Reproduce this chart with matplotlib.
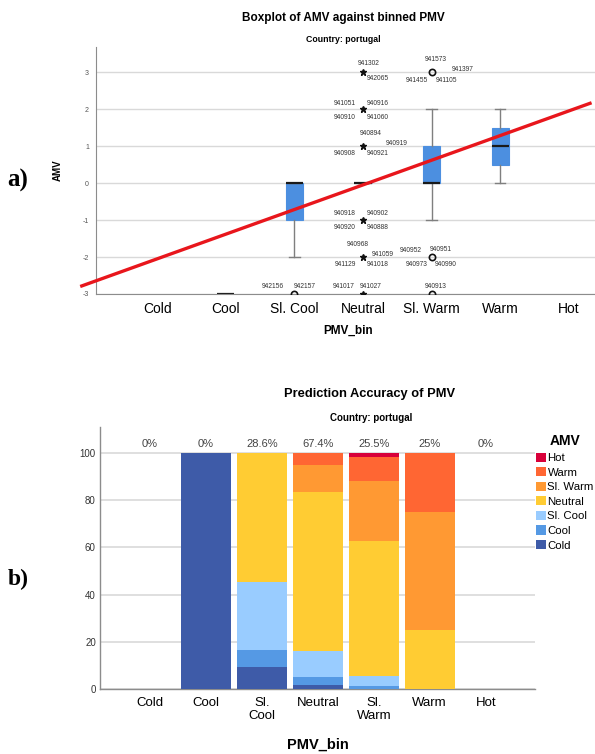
import numpy as np
import matplotlib
matplotlib.use('Agg')
import matplotlib.pyplot as plt
from matplotlib.patches import Patch

plt.rcParams['font.family'] = ['Liberation Sans', 'DejaVu Sans']
plt.rcParams['axes.unicode_minus'] = False

# ---- data: boxplot of AMV against binned PMV ----
pmv_bins = ['Cold', 'Cool', 'Sl. Cool', 'Neutral', 'Sl. Warm', 'Warm', 'Hot']

box_bins = ['Cool', 'Sl. Cool', 'Neutral', 'Sl. Warm', 'Warm']
box_med = [-3, 0, 0, 0, 1]
box_q1 = [-3, -1, 0, 0, 0.5]
box_q3 = [-3, 0, 0, 1, 1.5]
box_whislo = [-3, -2, 0, -1, 0]
box_whishi = [-3, 0, 0, 2, 2]

outlier_bin = ['Sl. Cool', 'Neutral', 'Neutral', 'Neutral', 'Neutral', 'Neutral',
               'Neutral', 'Sl. Warm', 'Sl. Warm', 'Sl. Warm']
outlier_amv = [-3, 3, 2, 1, -1, -2, -3, 3, -2, -3]
outlier_extreme = [False, True, True, True, True, True, True, False, False, False]
outlier_ids = [
    ['942156', '942157'],
    ['941302', '942065'],
    ['941051', '940916', '940910', '941060'],
    ['940894', '940919', '940908', '940921'],
    ['940918', '940902', '940920', '940888'],
    ['940968', '941059', '941129', '941018'],
    ['941017', '941027'],
    ['941573', '941397', '941455', '941105'],
    ['940952', '940951', '940973', '940990'],
    ['940913'],
]

# fitted line (AMV = intercept + slope * bin position)
fit_intercept = -2.05
fit_slope = 0.667
fit_x = [-1.12, 6.33]

# ---- data: prediction accuracy ----
amv_cats = ['Hot', 'Warm', 'Sl. Warm', 'Neutral', 'Sl. Cool', 'Cool', 'Cold']
share_cold = [0, 100, 9.5, 1.7, 0, 0, 0]
share_cool = [0, 0, 7.1, 3.4, 1.4, 0, 0]
share_slcool = [0, 0, 28.6, 10.9, 4.3, 0, 0]
share_neutral = [0, 0, 54.8, 67.4, 57.0, 25, 0]
share_slwarm = [0, 0, 0, 11.5, 25.5, 50, 0]
share_warm = [0, 0, 0, 5.1, 9.9, 25, 0]
share_hot = [0, 0, 0, 0, 1.9, 0, 0]
accuracy_labels = ['0%', '0%', '28.6%', '67.4%', '25.5%', '25%', '0%']
bar_tick_labels = ['Cold', 'Cool', 'Sl.\nCool', 'Neutral', 'Sl.\nWarm', 'Warm', 'Hot']

# ---- styles ----
W, H = 595, 754
grid_c = '#d9d9d9'
spine_c = '#8c8c8c'
amv_colors = {'Cold': '#3e5ba8', 'Cool': '#5599e4', 'Sl. Cool': '#99ccff',
              'Neutral': '#ffcc33', 'Sl. Warm': '#ff9933', 'Warm': '#ff6633',
              'Hot': '#d8003a'}
# pixel offsets (dx, dy down) for outlier case labels
label_offsets = [
    [(-22, -7), (10, -8)],
    [(6, -9), (15, 6)],
    [(-18, -6), (15, -6), (-18, 8), (15, 8)],
    [(8, -13), (34, -3), (-18, 7), (15, 7)],
    [(-18, -7), (15, -7), (-18, 7), (15, 7)],
    [(-5, -13), (20, -3), (-18, 7), (15, 7)],
    [(-19, -7), (8, -7)],
    [(4, -13), (31, -3), (-15, 8), (15, 8)],
    [(-21, -7), (9, -8), (-15, 7), (14, 7)],
    [(4, -8)],
]


def ax_rect(left, top, right, bottom):
    return [left / W, 1 - bottom / H, (right - left) / W, (bottom - top) / H]


fig = plt.figure(figsize=(W / 100, H / 100), dpi=100)

# ================= a) boxplot =================
ax1 = fig.add_axes(ax_rect(96, 47, 595, 294))
pos = {b: i for i, b in enumerate(pmv_bins)}

stats = []
for b, med, q1, q3, lo, hi in zip(box_bins, box_med, box_q1, box_q3, box_whislo, box_whishi):
    stats.append({'med': med, 'q1': q1, 'q3': q3, 'whislo': lo, 'whishi': hi,
                  'fliers': [], 'label': b})
ax1.bxp(stats, positions=[pos[b] for b in box_bins], widths=0.25, capwidths=0.15,
        patch_artist=True, showfliers=False, manage_ticks=False,
        boxprops=dict(facecolor='#4c8fe0', edgecolor='#4c8fe0', linewidth=0.8),
        whiskerprops=dict(color='#7f7f7f', linewidth=1.0),
        capprops=dict(color='#7f7f7f', linewidth=1.0),
        medianprops=dict(color='#1a1a1a', linewidth=1.6))

for b, v, ext, ids, offs in zip(outlier_bin, outlier_amv, outlier_extreme, outlier_ids, label_offsets):
    x = pos[b]
    if ext:
        ax1.plot(x, v, marker='*', color='#111111', markersize=5, zorder=5)
    else:
        ax1.plot(x, v, marker='o', mfc='none', mec='#111111', mew=1.2, markersize=4.5, zorder=5)
    for cid, (dx, dy) in zip(ids, offs):
        ax1.annotate(cid, (x, v), xytext=(dx, -dy), textcoords='offset pixels',
                     ha='center', va='center', fontsize=4.8, color='#333333',
                     annotation_clip=False)

fx = np.array(fit_x)
ax1.plot(fx, fit_intercept + fit_slope * fx, color='#e8161c', linewidth=2.4,
         clip_on=False, zorder=6, solid_capstyle='butt')

ax1.set_xlim(-0.89, 6.38)
ax1.set_ylim(-3, 3.68)
ax1.set_yticks(range(-3, 4))
ax1.yaxis.grid(True, color=grid_c, linewidth=1.0)
ax1.set_axisbelow(True)
ax1.set_xticks(range(len(pmv_bins)))
ax1.set_xticklabels(pmv_bins, fontsize=10)
ax1.tick_params(axis='x', length=0, pad=6)
ax1.tick_params(axis='y', length=0, pad=5, labelsize=5, labelcolor='#555555')
for s in ['top', 'right']:
    ax1.spines[s].set_visible(False)
for s in ['left', 'bottom']:
    ax1.spines[s].set_color(spine_c)
    ax1.spines[s].set_linewidth(0.8)
ax1.set_ylabel('AMV', fontsize=7, fontweight='bold', labelpad=14)
fig.text(348 / W, 1 - 331 / H, 'PMV_bin', fontsize=8.5, fontweight='bold',
         ha='center', va='center')
fig.text(343 / W, 1 - 18 / H, 'Boxplot of AMV against binned PMV', fontsize=8.5,
         fontweight='bold', ha='center', va='center')
fig.text(343 / W, 1 - 39 / H, 'Country: portugal', fontsize=6.3,
         fontweight='bold', ha='center', va='center')
fig.text(7 / W, 1 - 180 / H, 'a)', fontsize=18, fontweight='bold',
         family='Liberation Serif', ha='left', va='center')

# ================= b) stacked bars =================
ax2 = fig.add_axes(ax_rect(100, 427, 535, 689))
x = np.arange(len(pmv_bins))
layers = [('Cold', share_cold), ('Cool', share_cool), ('Sl. Cool', share_slcool),
          ('Neutral', share_neutral), ('Sl. Warm', share_slwarm),
          ('Warm', share_warm), ('Hot', share_hot)]
bottom = np.zeros(len(pmv_bins))
for name, vals in layers:
    vals = np.array(vals, dtype=float)
    ax2.bar(x, vals, width=0.89, bottom=bottom, color=amv_colors[name],
            edgecolor='none', zorder=3)
    bottom += vals

for xi, lab in zip(x, accuracy_labels):
    ax2.text(xi, 104, lab, ha='center', va='center', fontsize=8, color='#444444')

ax2.set_xlim(-0.89, 6.88)
ax2.set_ylim(0, 111)
ax2.set_yticks([0, 20, 40, 60, 80, 100])
ax2.yaxis.grid(True, color=grid_c, linewidth=1.2)
ax2.set_axisbelow(True)
ax2.set_xticks(x)
ax2.set_xticklabels(bar_tick_labels, fontsize=9.5, linespacing=1.05)
ax2.tick_params(axis='x', length=0, pad=6)
ax2.tick_params(axis='y', length=0, pad=3, labelsize=7, labelcolor='#333333')
for s in ['top', 'right']:
    ax2.spines[s].set_visible(False)
for s in ['left', 'bottom']:
    ax2.spines[s].set_color(spine_c)
    ax2.spines[s].set_linewidth(1.0)

fig.text(318 / W, 1 - 745 / H, 'PMV_bin', fontsize=10.5, fontweight='bold',
         ha='center', va='center')
fig.text(370 / W, 1 - 394 / H, 'Prediction Accuracy of PMV', fontsize=9.3,
         fontweight='bold', ha='center', va='center')
fig.text(371 / W, 1 - 418 / H, 'Country: portugal', fontsize=7,
         fontweight='bold', ha='center', va='center')
fig.text(8 / W, 1 - 579 / H, 'b)', fontsize=17, fontweight='bold',
         family='Liberation Serif', ha='left', va='center')

handles = [Patch(facecolor=amv_colors[c], edgecolor='none') for c in amv_cats]
leg = fig.legend(handles, amv_cats, loc='upper left',
                 bbox_to_anchor=(533 / W, 1 - 431 / H), frameon=False,
                 title='AMV', fontsize=8.2, handlelength=0.85, handleheight=0.85,
                 handletextpad=0.12, labelspacing=0.36, borderaxespad=0,
                 borderpad=0.3)
leg.get_title().set_fontsize(10)
leg.get_title().set_fontweight('bold')

fig.savefig('out.png', dpi=100)
